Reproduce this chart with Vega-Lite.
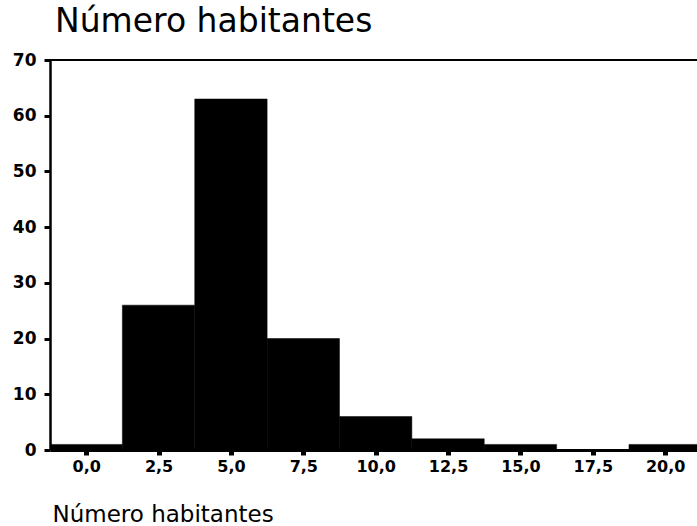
{
  "$schema": "https://vega.github.io/schema/vega-lite/v6.json",
  "width": 647,
  "height": 390,
  "autosize": {"type": "none"},
  "padding": {"left": 50, "top": 60, "right": 0, "bottom": 76},
  "background": "white",
  "title": {
    "text": "Número habitantes",
    "anchor": "start",
    "frame": "group",
    "dx": 5,
    "offset": 12,
    "font": "DejaVu Sans",
    "fontSize": 33,
    "fontWeight": "normal",
    "color": "black"
  },
  "data": {
    "values": [
      {"start": -1.25, "end": 1.25, "count": 1},
      {"start": 1.25, "end": 3.75, "count": 26},
      {"start": 3.75, "end": 6.25, "count": 63},
      {"start": 6.25, "end": 8.75, "count": 20},
      {"start": 8.75, "end": 11.25, "count": 6},
      {"start": 11.25, "end": 13.75, "count": 2},
      {"start": 13.75, "end": 16.25, "count": 1},
      {"start": 16.25, "end": 18.75, "count": 0},
      {"start": 18.75, "end": 21.25, "count": 1}
    ]
  },
  "layer": [
    {
      "mark": {"type": "rect", "color": "black", "clip": true, "stroke": "black", "strokeWidth": 0.5},
      "encoding": {
        "x": {
          "field": "start",
          "type": "quantitative",
          "scale": {"domain": [-1.25, 21.1], "nice": false, "zero": false},
          "axis": {
            "values": [0, 2.5, 5, 7.5, 10, 12.5, 15, 17.5, 20],
            "labelExpr": "replace(format(datum.value, '.1f'), '.', ',')",
            "title": "Número habitantes",
            "titleAnchor": "start",
            "titleAlign": "left",
            "titleBaseline": "alphabetic",
            "titleX": 2,
            "titleY": 71,
            "titleFont": "DejaVu Sans",
            "titleFontSize": 23,
            "titleFontWeight": "normal",
            "titleColor": "black",
            "labelFont": "DejaVu Sans",
            "labelFontSize": 16,
            "labelFontWeight": "bold",
            "labelColor": "black",
            "labelPadding": 3,
            "labelFlush": false,
            "grid": false,
            "domainColor": "black",
            "domainWidth": 3,
            "tickColor": "black",
            "tickWidth": 5,
            "tickSize": 5
          }
        },
        "x2": {"field": "end"},
        "y": {
          "field": "count",
          "type": "quantitative",
          "scale": {"domain": [0, 70], "nice": false},
          "axis": {
            "values": [0, 10, 20, 30, 40, 50, 60, 70],
            "title": null,
            "labelFont": "DejaVu Sans",
            "labelFontSize": 17,
            "labelFontWeight": "bold",
            "labelColor": "black",
            "labelPadding": 8,
            "grid": false,
            "domainColor": "black",
            "domainWidth": 2.5,
            "tickColor": "black",
            "tickWidth": 3,
            "tickSize": 6
          }
        },
        "y2": {"datum": 0}
      }
    },
    {
      "mark": {"type": "rule", "color": "black", "strokeWidth": 2},
      "encoding": {"y": {"datum": 70}}
    }
  ],
  "config": {
    "view": {"stroke": null}
  }
}
